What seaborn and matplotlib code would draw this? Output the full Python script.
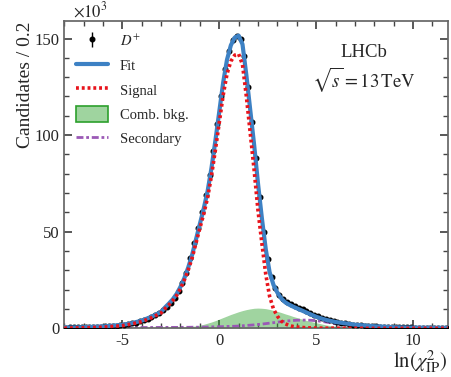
import numpy as np
import pandas as pd
import seaborn as sns
import matplotlib
matplotlib.use("Agg")
import matplotlib.pyplot as plt
from matplotlib.patches import Patch
from matplotlib.ticker import MultipleLocator

# ---- data points (bin width 0.2), in units of 10^3
data_x = [round(-7.9 + 0.2 * i, 1) for i in range(100)]
data_y = [0.4, 0.45, 0.5, 0.5, 0.55, 0.6, 0.65, 0.75, 0.8, 0.9,
          1.0, 1.1, 1.25, 1.4, 1.6, 1.85, 2.1, 2.6, 3.0, 3.6,
          4.2, 5.0, 5.9, 6.8, 8.0, 9.4, 11.2, 13.2, 15.8, 19.5,
          23.5, 28.5, 36.5, 44.0, 52.0, 60.0, 69.0, 79.5, 92.0, 105.5,
          120.0, 134.0, 143.5, 149.0, 151.5, 149.5, 141.0, 125.0, 107.0, 88.0,
          68.0, 50.0, 36.0, 26.5, 21.0, 17.5, 15.0, 13.6, 12.5, 11.6,
          10.7, 9.8, 8.9, 8.0, 7.1, 6.2, 5.4, 4.7, 4.1, 3.6,
          3.2, 2.9, 2.6, 2.3, 2.0, 1.8, 1.6, 1.4, 1.25, 1.1,
          1.0, 0.9, 0.8, 0.75, 0.7, 0.65, 0.6, 0.55, 0.5, 0.45,
          0.4, 0.4, 0.35, 0.35, 0.3, 0.3, 0.3, 0.3, 0.25, 0.25]

# ---- fit components
curve_x = [-8, -7, -6, -5, -4.5, -4, -3.5,
           -3.0, -2.8, -2.6, -2.4, -2.2, -2.0, -1.8, -1.6, -1.4, -1.2,
           -1.0, -0.8, -0.6, -0.4, -0.2, 0.0, 0.2, 0.4, 0.6, 0.8,
           1.0, 1.2, 1.4, 1.6, 1.8, 2.0, 2.2, 2.4, 2.6, 2.8,
           3.0, 3.2, 3.4, 3.6, 3.8, 4.0,
           4.5, 5, 5.5, 6, 6.5, 7, 8, 9, 10, 11, 12]
fit_y = [0.4, 0.6, 1.0, 1.8, 2.7, 4.0, 6.0,
         8.5, 10.8, 12.8, 15.0, 17.8, 21.5, 26.0, 31.5, 38.0, 46.0,
         54.0, 62.0, 71.0, 83.0, 97.0, 112.0, 127.0, 139.0, 146.5, 150.5,
         151.5, 147.0, 131.0, 113.0, 95.0, 75.0, 57.0, 41.0, 29.0, 22.5,
         18.5, 15.5, 13.5, 12.3, 11.3, 10.4,
         8.2, 6.0, 4.4, 3.3, 2.6, 1.9, 1.1, 0.6, 0.4, 0.3, 0.3]
signal_y = [0.1, 0.3, 0.6, 1.4, 2.3, 3.5, 5.5,
            8.0, 10.2, 12.1, 14.3, 17.0, 20.6, 25.0, 30.2, 36.4, 44.1,
            51.8, 59.2, 67.6, 79.0, 92.2, 106.3, 120.5, 131.6, 138.2, 141.4,
            142.0, 136.5, 120.0, 101.0, 82.0, 61.0, 44.0, 28.0, 16.5, 10.0,
            6.3, 3.8, 2.4, 1.5, 1.0, 0.7,
            0.3, 0.15, 0.1, 0.1, 0.05, 0.05, 0.0, 0.0, 0.0, 0.0, 0.0]
comb_y = [0, 0, 0, 0, 0, 0, 0,
          0.05, 0.1, 0.15, 0.2, 0.3, 0.4, 0.55, 0.75, 1.0, 1.3,
          1.6, 2.1, 2.7, 3.3, 4.0, 4.8, 5.6, 6.4, 7.2, 7.9,
          8.6, 9.2, 9.7, 10.1, 10.4, 10.5, 10.4, 10.2, 9.8, 9.3,
          8.8, 8.2, 7.5, 6.9, 6.2, 5.6,
          4.1, 2.9, 1.8, 1.0, 0.5, 0.2, 0.05, 0, 0, 0, 0]
second_y = [0.3, 0.3, 0.35, 0.4, 0.4, 0.45, 0.45,
            0.5, 0.5, 0.5, 0.5, 0.5, 0.5, 0.55, 0.55, 0.6, 0.6,
            0.6, 0.65, 0.7, 0.75, 0.8, 0.85, 0.9, 1.0, 1.05, 1.1,
            1.2, 1.35, 1.5, 1.65, 1.8, 2.0, 2.2, 2.45, 2.7, 2.95,
            3.2, 3.45, 3.7, 3.9, 4.05, 4.2,
            4.3, 4.0, 3.3, 2.4, 1.8, 1.3, 0.6, 0.3, 0.2, 0.15, 0.1]

labels = ["$D^{+}$", "Fit", "Signal", "Comb. bkg.", "Secondary"]

blue = "#3d81c4"
red = "#e8141c"
green = "#2ca02c"
purple = "#9b59b6"

sns.set_theme(style="ticks")
plt.rcParams["font.family"] = ["Liberation Serif", "DejaVu Serif"]
plt.rcParams["mathtext.fontset"] = "stix"

df = pd.DataFrame({"x": curve_x, "fit": fit_y, "sig": signal_y,
                   "comb": comb_y, "sec": second_y})
pts = pd.DataFrame({"x": data_x, "y": data_y})
pts["err"] = np.sqrt(pts["y"] / 1000.0)  # poisson error in units of 1e3

fig = plt.figure(figsize=(4.52, 3.77), dpi=100)
ax = fig.add_axes([0.142, 0.129, 0.849, 0.815])

ax.fill_between(df["x"], 0, df["comb"], facecolor=green, alpha=0.45,
                linewidth=0, zorder=1)
sns.lineplot(data=df, x="x", y="sec", ax=ax, color=purple, lw=2.0,
             linestyle=(0, (2.5, 1, 1, 1)), zorder=2)
eb = ax.errorbar(pts["x"], pts["y"], yerr=pts["err"], fmt="o", color="black",
                 ms=3.3, elinewidth=1, capsize=0, zorder=3)
sns.lineplot(data=df, x="x", y="fit", ax=ax, color=blue, lw=3.0, zorder=4)
sns.lineplot(data=df, x="x", y="sig", ax=ax, color=red, lw=2.6,
             linestyle=(0, (0.8, 0.8)), zorder=5)

ax.set_xlim(-8.0, 11.8)
ax.set_ylim(0, 159)
ax.xaxis.set_major_locator(MultipleLocator(5))
ax.xaxis.set_minor_locator(MultipleLocator(1))
ax.yaxis.set_major_locator(MultipleLocator(50))
ax.yaxis.set_minor_locator(MultipleLocator(10))
ax.tick_params(which="both", direction="in", top=True, right=True,
               labelsize=12, color="#444444")
ax.tick_params(which="major", length=6)
ax.tick_params(which="minor", length=3.5)
for s in ax.spines.values():
    s.set_color("#666666")
ax.set_xticklabels([f"{int(t)}" for t in ax.get_xticks()])

ax.set_xlabel(r"$\ln(\chi^2_{\rm IP})$", fontsize=15, loc="right", labelpad=-1)
ax.set_ylabel("Candidates / 0.2", fontsize=14, loc="top", labelpad=0)
ax.text(0.023, 1.0, r"$\times10^{3}$", transform=ax.transAxes,
        fontsize=12, va="bottom", ha="left")
ax.text(0.78, 0.897, "LHCb", transform=ax.transAxes, fontsize=13.5,
        ha="center", va="center")
ax.text(0.78, 0.81, r"$\sqrt{s} = 13\,\mathrm{TeV}$", transform=ax.transAxes,
        fontsize=13.5, ha="center", va="center")

handles = [eb,
           plt.Line2D([], [], color=blue, lw=3.0),
           plt.Line2D([], [], color=red, lw=2.6, linestyle=(0, (0.8, 0.8))),
           Patch(facecolor=green, alpha=0.45, edgecolor=green, lw=1.2),
           plt.Line2D([], [], color=purple, lw=2.0, linestyle=(0, (2.5, 1, 1, 1)))]
leg = ax.legend(handles, labels, loc="upper left", bbox_to_anchor=(0.0, 1.0),
                frameon=False, fontsize=10.5, handlelength=2.2, handleheight=1.35,
                handletextpad=0.8, labelspacing=0.55, borderpad=0.8,
                borderaxespad=0.0)
for p in leg.get_patches():
    p.set_edgecolor(green)
    p.set_alpha(None)
    p.set_facecolor((0.17, 0.63, 0.17, 0.45))

fig.savefig("out.png", dpi=100)
